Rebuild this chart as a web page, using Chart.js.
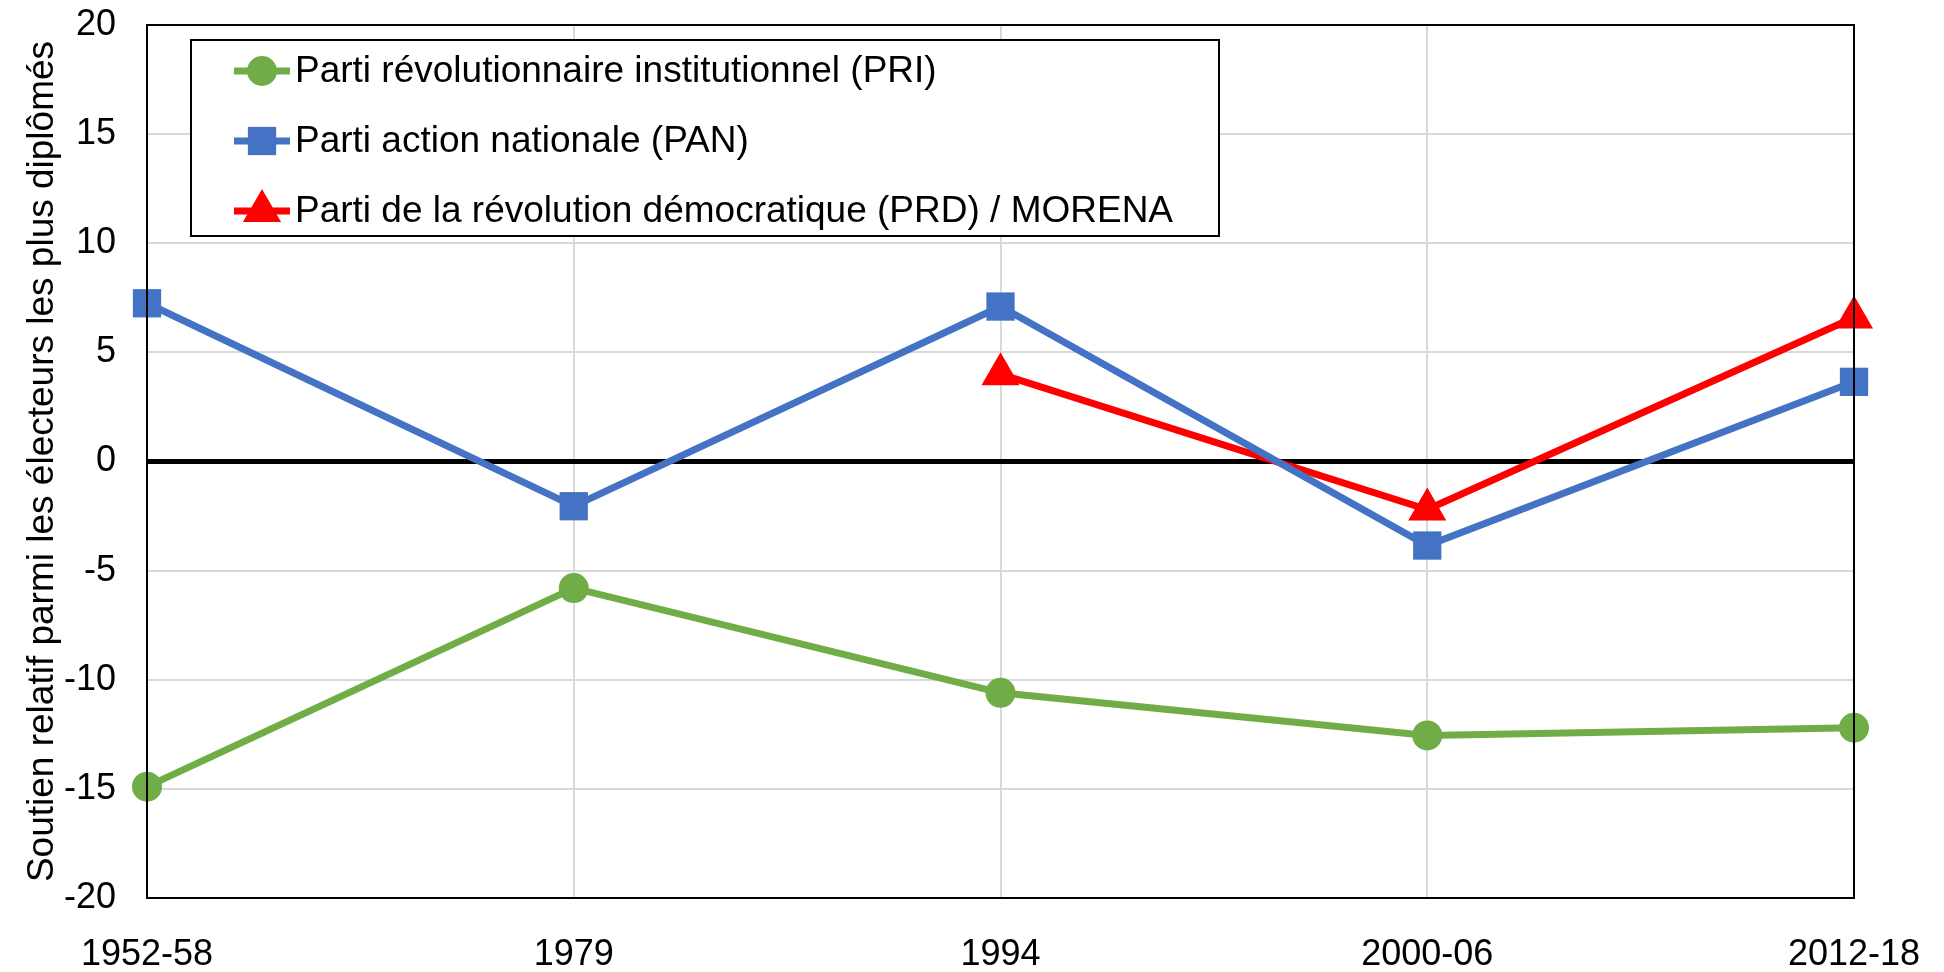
<!DOCTYPE html>
<html>
<head>
<meta charset="utf-8">
<script src="https://cdn.jsdelivr.net/npm/chart.js@4.4.1/dist/chart.umd.min.js"></script>
<style>
  html, body { margin: 0; padding: 0; background: #fff; }
  #wrap { width: 1944px; height: 972px; }
</style>
</head>
<body>
<div id="wrap"><canvas id="chart" width="1944" height="972"></canvas></div>
<script>
// Data
const periods = ["1952-58", "1979", "1994", "2000-06", "2012-18"];
const priValues = [-14.9, -5.8, -10.6, -12.55, -12.2];
const panValues = [7.25, -2.05, 7.1, -3.85, 3.65];
const prdValues = [null, null, 4.0, -2.2, 6.6];
const seriesNames = [
  "Parti révolutionnaire institutionnel (PRI)",
  "Parti action nationale (PAN)",
  "Parti de la révolution démocratique (PRD) / MORENA"
];
const yTicks = [-20, -15, -10, -5, 0, 5, 10, 15, 20];

const FONT = "'Liberation Sans', Arial, sans-serif";

// ─── Plot frame + boxed legend ──────────────────────────────────────────────
const framePlugin = {
  id: "frame",
  afterDatasetsDraw(chart) {
    const { ctx, chartArea: a } = chart;
    ctx.save();
    ctx.strokeStyle = "#000";
    ctx.lineWidth = 2;
    ctx.strokeRect(a.left, a.top, a.right - a.left, a.bottom - a.top);
    ctx.restore();
  },
  afterDraw(chart) {
    const ctx = chart.ctx;
    ctx.save();
    ctx.fillStyle = "#fff";
    ctx.fillRect(191, 40, 1028, 196);
    ctx.strokeStyle = "#000";
    ctx.lineWidth = 2;
    ctx.strokeRect(191, 40, 1028, 196);
    chart.data.datasets.forEach((ds, i) => {
      const y = 71 + i * 70;
      ctx.strokeStyle = ds.borderColor;
      ctx.lineWidth = 7;
      ctx.beginPath();
      ctx.moveTo(234, y);
      ctx.lineTo(290, y);
      ctx.stroke();
      ctx.fillStyle = ds.backgroundColor;
      Chart.helpers.drawPoint(ctx, { pointStyle: ds.pointStyle, radius: ds.pointRadius, rotation: 0, borderWidth: 0 }, 262, y);
      ctx.fillStyle = "#000";
      ctx.font = "37px " + FONT;
      ctx.textBaseline = "middle";
      ctx.fillText(ds.label, 295, y + 1);
    });
    ctx.restore();
  }
};

new Chart(document.getElementById("chart"), {
  type: "line",
  data: {
    labels: periods,
    datasets: [
      { label: seriesNames[0], data: priValues, borderColor: "#70AD47", backgroundColor: "#70AD47",
        borderWidth: 7, pointStyle: "circle", pointRadius: 15, pointBorderWidth: 0 },
      { label: seriesNames[1], data: panValues, borderColor: "#4472C4", backgroundColor: "#4472C4",
        borderWidth: 7, pointStyle: "rect", pointRadius: 20, pointBorderWidth: 0 },
      { label: seriesNames[2], data: prdValues, borderColor: "#FF0000", backgroundColor: "#FF0000",
        borderWidth: 7, pointStyle: "triangle", pointRadius: 22, pointBorderWidth: 0 }
    ]
  },
  options: {
    responsive: false,
    animation: false,
    layout: { padding: { left: 0, top: 25, right: 90, bottom: 0 } },
    elements: { line: { tension: 0 } },
    plugins: { legend: { display: false }, tooltip: { enabled: false } },
    scales: {
      x: {
        offset: false,
        grid: { color: "#d9d9d9", lineWidth: 2, drawTicks: false },
        border: { display: false },
        ticks: { color: "#000", font: { family: FONT, size: 36 }, padding: 35, maxRotation: 0 },
        afterFit(s) { s.height = 74; s.paddingLeft = 0; s.paddingRight = 0; }
      },
      y: {
        min: -20, max: 20,
        afterBuildTicks(s) { s.ticks = yTicks.map((v) => ({ value: v })); },
        grid: {
          color: (c) => (c.tick && c.tick.value === 0 ? "#000" : "#d9d9d9"),
          lineWidth: (c) => (c.tick && c.tick.value === 0 ? 5 : 2),
          drawTicks: false
        },
        border: { display: false },
        ticks: { color: "#000", font: { family: FONT, size: 36 }, padding: 31 },
        title: {
          display: true,
          text: "Soutien relatif parmi les électeurs les plus diplômés",
          color: "#000",
          font: { family: FONT, size: 37 },
          padding: { top: 21, bottom: 0 }
        },
        afterFit(s) { s.width = 147; s.paddingTop = 0; s.paddingBottom = 0; }
      }
    }
  },
  plugins: [framePlugin]
});
</script>
</body>
</html>
